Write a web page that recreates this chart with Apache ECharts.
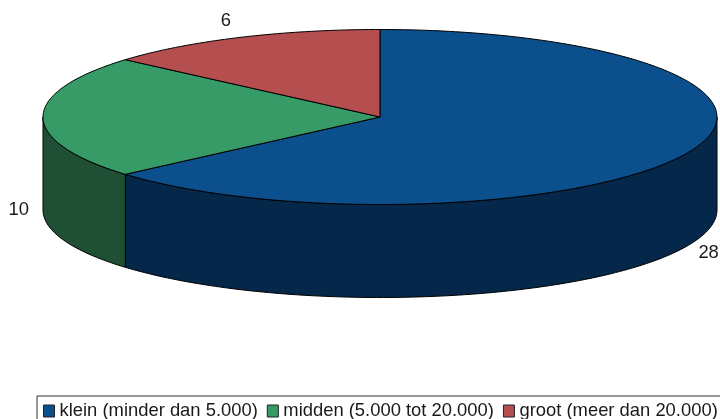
<!DOCTYPE html>
<html>
<head>
<meta charset="utf-8">
<style>
  html, body { margin: 0; padding: 0; background: #fff; }
  #chart { width: 720px; height: 419px; }
</style>
<script src="https://cdn.jsdelivr.net/npm/echarts@6/dist/echarts.min.js"></script>
</head>
<body>
<div id="chart"></div>
<script>
// data
const categories = ['klein (minder dan 5.000)', 'midden (5.000 tot 20.000)', 'groot (meer dan 20.000)'];
const counts = [28, 10, 6];
const topColors = ['#0b4f8d', '#369b66', '#b54f4f'];
const wallColors = ['#05274a', '#1f4f34', '#5a2727'];

// ellipse of the pie top
const cx = 380, cy = 117, rx = 337, ry = 87.5, depth = 93;
const total = counts.reduce((a, b) => a + b, 0);

function pt(deg, dy) {
    const t = deg * Math.PI / 180;
    return [cx + rx * Math.sin(t), cy - ry * Math.cos(t) + (dy || 0)];
}

function arc(from, to, dy) {
    const pts = [];
    const n = Math.max(2, Math.ceil(Math.abs(to - from)));
    for (let i = 0; i <= n; i++) pts.push(pt(from + (to - from) * i / n, dy));
    return pts;
}

function sliceRenderer(idx) {
    return function (params, api) {
        const start = counts.slice(0, idx).reduce((a, b) => a + b, 0) / total * 360;
        const end = start + api.value(0) / total * 360;
        const children = [];
        const line = { stroke: '#000', lineWidth: 1 };

        // side wall, only the front half of the rim shows
        const a = Math.max(start, 90), b = Math.min(end, 270);
        if (b > a) {
            children.push({
                type: 'polygon',
                shape: { points: arc(a, b, 0).concat(arc(b, a, depth)) },
                style: Object.assign({ fill: wallColors[idx] }, line)
            });
        }
        // top face
        children.push({
            type: 'polygon',
            shape: { points: [[cx, cy]].concat(arc(start, end, 0)) },
            style: Object.assign({ fill: topColors[idx] }, line)
        });
        // value label
        const mid = (start + end) / 2 * Math.PI / 180;
        const front = Math.cos(mid) < 0.01;
        children.push({
            type: 'text',
            style: {
                x: cx + rx * 1.072 * Math.sin(mid) - (front ? 0 : 4),
                y: cy - ry * 1.18 * Math.cos(mid) + (front ? depth : -2),
                text: String(api.value(0)),
                fill: '#1a1a1a',
                font: '18.4px "Liberation Sans"',
                align: 'center',
                verticalAlign: 'middle'
            }
        });
        return { type: 'group', children: children };
    };
}

const chart = echarts.init(document.getElementById('chart'));
chart.setOption({
    animation: false,
    legend: {
        data: categories,
        left: 37,
        top: 396,
        width: 700,
        padding: [6, 18, 8, 6],
        icon: 'rect',
        itemWidth: 11,
        itemHeight: 12,
        itemGap: 9,
        borderColor: '#333',
        borderWidth: 1,
        selectedMode: false,
        textStyle: { fontFamily: 'Liberation Sans', fontSize: 18.4, color: '#1a1a1a' },
        itemStyle: { borderColor: '#222', borderWidth: 1 }
    },
    series: categories.map((name, i) => ({
        type: 'custom',
        name: name,
        coordinateSystem: 'none',
        silent: true,
        itemStyle: { color: topColors[i] },
        data: [[counts[i]]],
        renderItem: sliceRenderer(i)
    }))
});

window.addEventListener('resize', () => chart.resize());
</script>
</body>
</html>
